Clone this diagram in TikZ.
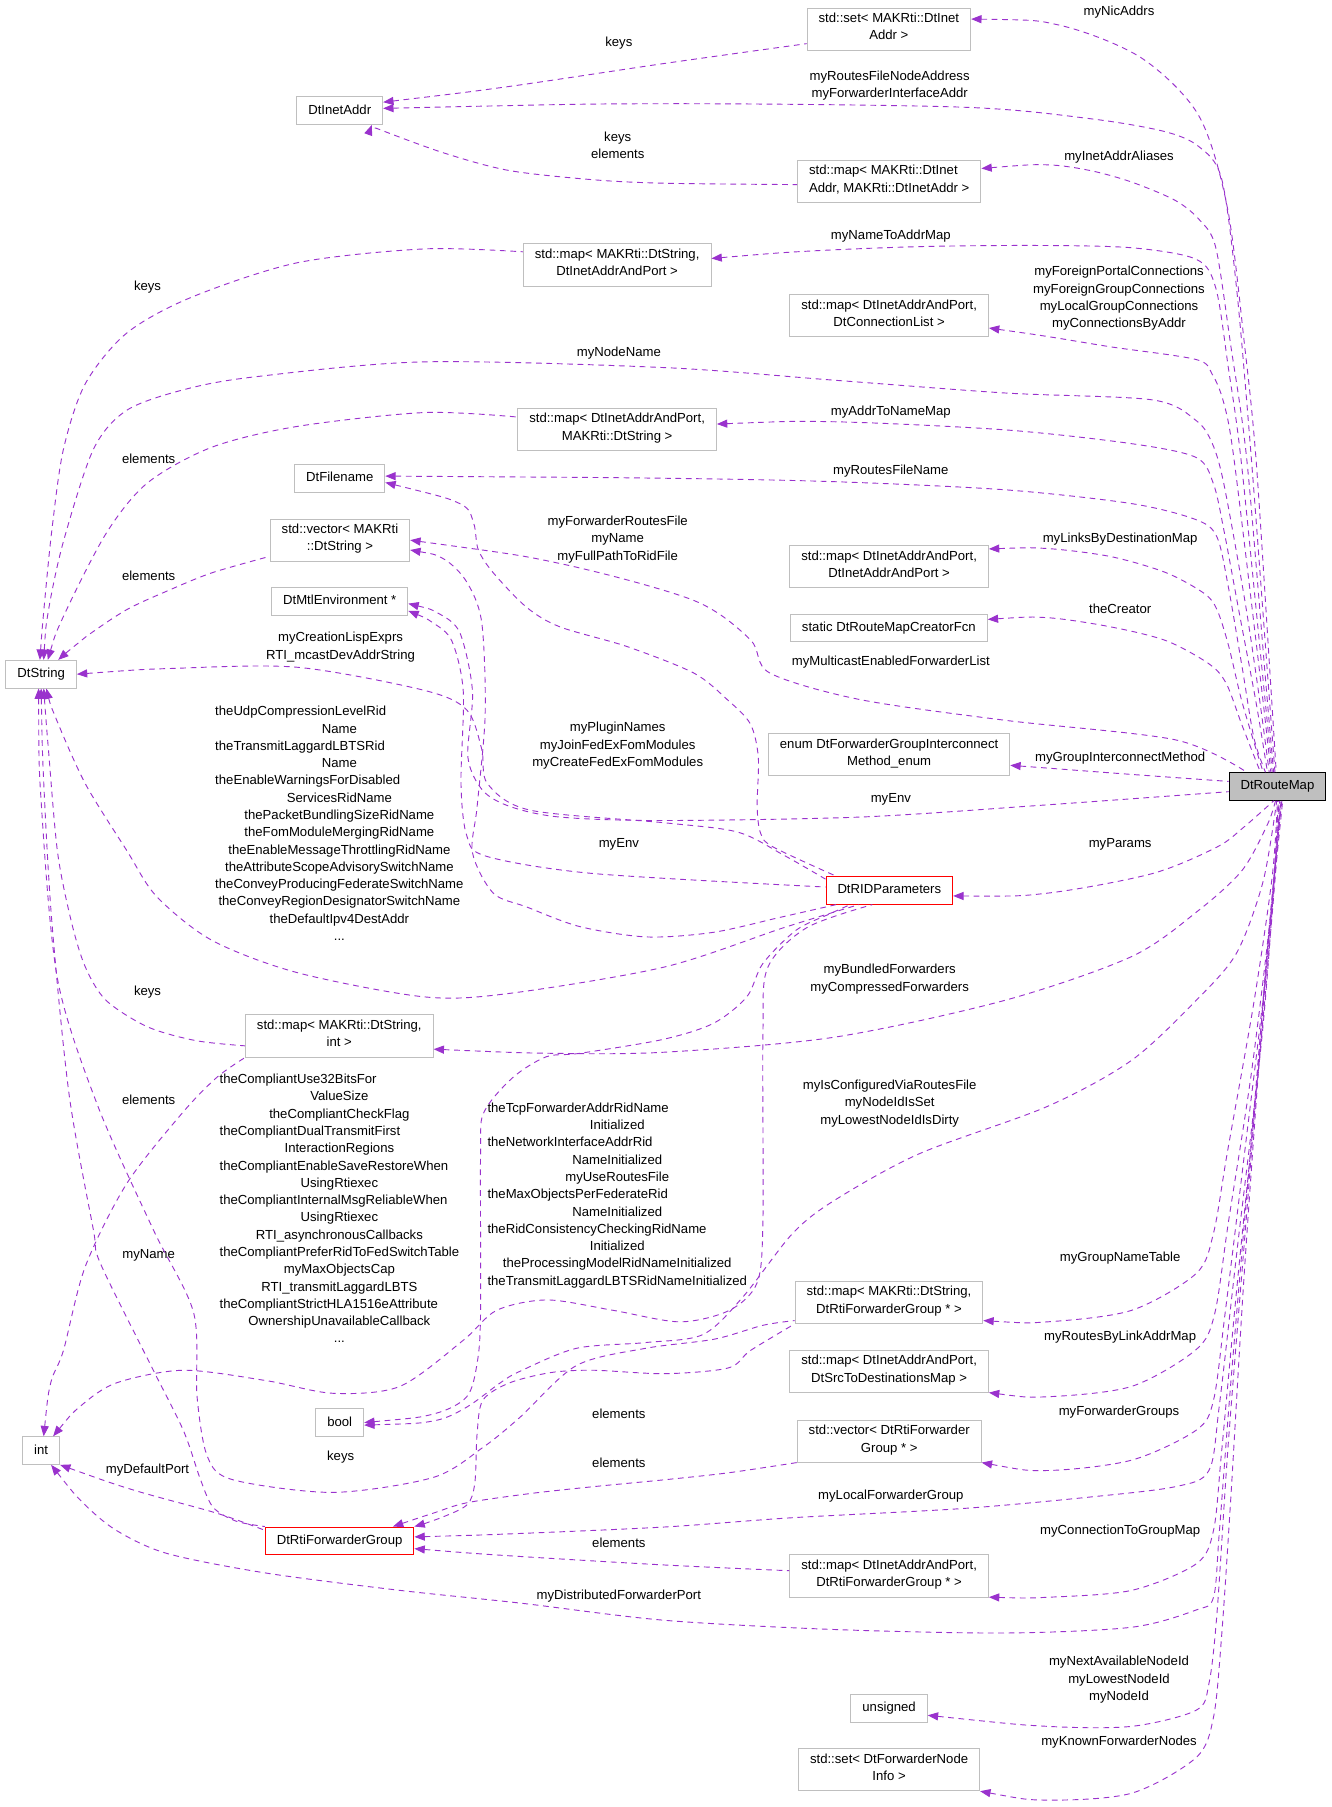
\documentclass[tikz,border=0pt]{standalone}
\usepackage{fontspec}
\setmainfont{Liberation Sans}
\usetikzlibrary{arrows.meta}
\definecolor{edgecol}{HTML}{9A32CD}
\definecolor{boxline}{HTML}{BFBFBF}
\newcommand{\lline}[2]{\rlap{#2}\phantom{#1}}
\tikzset{
  box/.style={draw=boxline, line width=0.8pt, fill=white, align=center,
    inner xsep=10pt, inner ysep=4.5pt, font=\fontsize{11.4}{15}\selectfont,
    execute at begin node=\strut, execute at end node=\strut},
  lbl/.style={align=center, inner sep=0pt, font=\fontsize{11.4}{15}\selectfont},
  link/.style={draw=edgecol, line width=0.8pt, dash pattern=on 5pt off 4pt,
    {Triangle[length=9pt,width=7pt]}-}
}
\begin{document}
\begin{tikzpicture}[x=1pt, y=-1pt]
   \path[use as bounding box, fill=white] (0,0) rectangle (1155,1568);
   \def \Boxes {
      setaddr/771.3/25.3/std::set< MAKRti::DtInet\\Addr >,
      inetaddr/294.8/96/DtInetAddr,
      mapaddr/771.6/157.4/\lline{Addr{,} MAKRti::DtInetAddr >}{std::map< MAKRti::DtInet}\\Addr{,} MAKRti::DtInetAddr >,
      mapstraddr/535.5/230/std::map< MAKRti::DtString{,}\\DtInetAddrAndPort >,
      mapconn/771.5/274/std::map< DtInetAddrAndPort{,}\\DtConnectionList >,
      mapaddrstr/535.5/372.5/std::map< DtInetAddrAndPort{,}\\MAKRti::DtString >,
      filename/294.8/415.2/DtFilename,
      vecstr/295/468.7/std::vector< MAKRti\\::DtString >,
      mtlenv/294.8/521.7/DtMtlEnvironment *,
      dtstring/35.7/585/DtString,
      maplinks/771.5/491.6/std::map< DtInetAddrAndPort{,}\\DtInetAddrAndPort >,
      creator/771.3/545/static DtRouteMapCreatorFcn,
      enumgrp/771.5/654.9/enum DtForwarderGroupInterconnect\\Method\_enum,
      mapstrint/294.4/898.9/std::map< MAKRti::DtString{,}\\int >,
      mapstrgrp/771.4/1130/std::map< MAKRti::DtString{,}\\DtRtiForwarderGroup * >,
      mapsrc/771.5/1190/std::map< DtInetAddrAndPort{,}\\DtSrcToDestinationsMap >,
      typebool/294.8/1234.4/bool,
      typeint/35.7/1258.7/int,
      vecgrp/771.6/1250.6/std::vector< DtRtiForwarder\\Group * >,
      mapaddrgrp/771.5/1367.5/std::map< DtInetAddrAndPort{,}\\DtRtiForwarderGroup * >,
      typeunsigned/771.5/1482.5/unsigned,
      setnode/771.5/1535.5/std::set< DtForwarderNode\\Info >}
   \def \Labels {
      lNic/971/10.7/myNicAddrs,
      lKeysA/537/37/keys,
      lRoutesAddr/772/74/myRoutesFileNodeAddress\\myForwarderInterfaceAddr,
      lKeysElem/536/126/keys\\elements,
      lAliases/971/136/myInetAddrAliases,
      lNameToAddr/773/205/myNameToAddrMap,
      lKeysB/128/249/keys,
      lConn/971/259/myForeignPortalConnections\\myForeignGroupConnections\\myLocalGroupConnections\\myConnectionsByAddr,
      lNodeName/537/306/myNodeName,
      lAddrToName/773/358/myAddrToNameMap,
      lElemA/129/398/elements,
      lRoutesFile/773/409/myRoutesFileName,
      lRidFiles/536/468/myForwarderRoutesFile\\myName\\myFullPathToRidFile,
      lLinks/972/468/myLinksByDestinationMap,
      lElemB/129/500/elements,
      lCreator/972/528/theCreator,
      lLisp/295.5/561.5/myCreationLispExprs\\RTI\_mcastDevAddrString,
      lMulticast/773/574.6/myMulticastEnabledForwarderList,
      lRidNames/294.5/714.5/\lline{theConveyProducingFederateSwitchName}{theUdpCompressionLevelRid}\\Name\\\lline{theConveyProducingFederateSwitchName}{theTransmitLaggardLBTSRid}\\Name\\\lline{theConveyProducingFederateSwitchName}{theEnableWarningsForDisabled}\\ServicesRidName\\thePacketBundlingSizeRidName\\theFomModuleMergingRidName\\theEnableMessageThrottlingRidName\\theAttributeScopeAdvisorySwitchName\\theConveyProducingFederateSwitchName\\theConveyRegionDesignatorSwitchName\\theDefaultIpv4DestAddr\\.{}.{}.,
      lPlugins/536/647/myPluginNames\\myJoinFedExFomModules\\myCreateFedExFomModules,
      lInterconnect/972/658/myGroupInterconnectMethod,
      lEnvA/773/694/myEnv,
      lEnvB/537/733/myEnv,
      lParams/972/733/myParams,
      lBundled/772/849.5/myBundledForwarders\\myCompressedForwarders,
      lKeysC/128/860.5/keys,
      lFlags/294.5/1048.7/\lline{theCompliantPreferRidToFedSwitchTable}{theCompliantUse32BitsFor}\\ValueSize\\theCompliantCheckFlag\\\lline{theCompliantPreferRidToFedSwitchTable}{theCompliantDualTransmitFirst}\\InteractionRegions\\\lline{theCompliantPreferRidToFedSwitchTable}{theCompliantEnableSaveRestoreWhen}\\UsingRtiexec\\\lline{theCompliantPreferRidToFedSwitchTable}{theCompliantInternalMsgReliableWhen}\\UsingRtiexec\\RTI\_asynchronousCallbacks\\theCompliantPreferRidToFedSwitchTable\\myMaxObjectsCap\\RTI\_transmitLaggardLBTS\\\lline{theCompliantPreferRidToFedSwitchTable}{theCompliantStrictHLA1516eAttribute}\\OwnershipUnavailableCallback\\.{}.{}.,
      lElemC/129/954/elements,
      lConfigured/772/957.5/myIsConfiguredViaRoutesFile\\myNodeIdIsSet\\myLowestNodeIdIsDirty,
      lInit/535.6/1037.3/\lline{theTransmitLaggardLBTSRidNameInitialized}{theTcpForwarderAddrRidName}\\Initialized\\\lline{theTransmitLaggardLBTSRidNameInitialized}{theNetworkInterfaceAddrRid}\\NameInitialized\\myUseRoutesFile\\\lline{theTransmitLaggardLBTSRidNameInitialized}{theMaxObjectsPerFederateRid}\\NameInitialized\\\lline{theTransmitLaggardLBTSRidNameInitialized}{theRidConsistencyCheckingRidName}\\Initialized\\theProcessingModelRidNameInitialized\\theTransmitLaggardLBTSRidNameInitialized,
      lMyName/129/1089/myName,
      lGroupName/972/1092/myGroupNameTable,
      lByLink/972/1160/myRoutesByLinkAddrMap,
      lFwdGroups/971/1225/myForwarderGroups,
      lElemD/537/1227/elements,
      lKeysD/295.6/1264/keys,
      lElemE/537/1269/elements,
      lDefaultPort/128/1276/myDefaultPort,
      lLocal/773/1298/myLocalForwarderGroup,
      lConnGroup/972/1329/myConnectionToGroupMap,
      lElemF/537/1339/elements,
      lDistributed/537/1384.7/myDistributedForwarderPort,
      lNodeIds/971/1457.5/myNextAvailableNodeId\\myLowestNodeId\\myNodeId,
      lKnown/971/1512/myKnownForwarderNodes}
   \foreach \n / \x / \y / \txt in \Boxes {
      \node[box] (\n) at (\x, \y) {\txt};
   }
   \node[box, draw=red] (ridparams) at (771.7, 772.6) {DtRIDParameters};
   \node[box, draw=red] (fwdgroup) at (294.7, 1337) {DtRtiForwarderGroup};
   \node[box, draw=black, fill=boxline] (routemap) at (1108.5, 682.5) {DtRouteMap};
   \foreach \n / \x / \y / \txt in \Labels {
      \node[lbl] (\n) at (\x, \y) {\txt};
   }
   \draw[link] plot[smooth] coordinates {(setaddr.7) (920,22) (990,50) (1040,100) (1065,180) (1080,300) (1090,400) (1103,600) (routemap.95)};
   \draw[link] plot[smooth] coordinates {(inetaddr.11) (442,75) (577,55) (setaddr.190)};
   \draw[link] plot[smooth] coordinates {(inetaddr.3) (577,90) (835,93) (946,103) (1010,114) (1040,127) (1060,155) (1073,250) (1086,400) (1101,600) (routemap.100)};
   \draw[link] plot[smooth] coordinates {(inetaddr.-24) (331,113) (386,133) (442,148) (515,156) (577,159) (mapaddr.182)};
   \draw[link] plot[smooth] coordinates {(mapaddr.8) (908,143) (946,148) (982,158) (1020,174) (1041,191) (1055,215) (1068,300) (1082,400) (1099,600) (routemap.105)};
   \draw[link] plot[smooth] coordinates {(mapstraddr.4) (700,218) (798,214) (900,213) (982,215) (1038,225) (1055,250) (1066,320) (1077,400) (1097,600) (routemap.110)};
   \draw[link] plot[smooth] coordinates {(dtstring.95) (38,530) (45,460) (55,390) (74,333) (110,289) (166,258) (258,228) (368,216) (mapstraddr.172)};
   \draw[link] plot[smooth] coordinates {(mapconn.-7) (909,292) (964,301) (1038,312) (1052,325) (1062,350) (1071,400) (1095,600) (routemap.115)};
   \draw[link] plot[smooth] coordinates {(dtstring.80) (42,530) (55,470) (81,390) (110,356) (160,338) (221,327) (368,314) (577,319) (725,330) (872,341) (1000,347) (1038,365) (1052,385) (1062,420) (1080,520) (1092,600) (routemap.120)};
   \draw[link] plot[smooth] coordinates {(mapaddrstr.3) (725,366) (872,373) (982,385) (1038,397) (1053,420) (1062,460) (1075,530) (1090,610) (routemap.125)};
   \draw[link] plot[smooth] coordinates {(dtstring.65) (55,535) (92,463) (128,419) (184,388) (258,370) (368,358) (mapaddrstr.173)};
   \draw[link] plot[smooth] coordinates {(filename.3) (577,415) (725,418) (872,425) (982,437) (1038,451) (1056,466) (1066,510) (1078,580) (1088,640) (routemap.130)};
   \draw[link] plot[smooth] coordinates {(filename.-5) (399,437) (411,454) (415,477) (428,497) (457,527) (486,544) (544,561) (602,584) (631,607) (651,628) (658,657) (657,700) (660,723) (671,735) (ridparams.165)};
   \draw[link] plot[smooth] coordinates {(maplinks.10) (909,476) (964,483) (1012,497) (1045,515) (1056,529) (1066,560) (1078,610) (routemap.135)};
   \draw[link] plot[smooth] coordinates {(dtstring.40) (74,553) (110,529) (147,512) (184,497) (vecstr.193)};
   \draw[link] plot[smooth] coordinates {(creator.5) (909,536) (964,544) (1012,556) (1049,576) (1064,593) (1078,630) (routemap.140)};
   \draw[link] plot[smooth] coordinates {(dtstring.east) (150,580) (258,579) (368,599) (405,616) (418,650) (423,680) (460,703) (577,714) (640,722) (680,742) (ridparams.170)};
   \draw[link] plot[smooth] coordinates {(vecstr.0) (486,489) (602,521) (651,555) (668,584) (746,607) (872,625) (1020,642) (routemap.155)};
   \draw[link] plot[smooth] coordinates {(vecstr.-8) (385,485) (405,505) (418,540) (421,620) (414,700) (410,740) (428,775) (457,787) (503,804) (561,813) (619,809) (677,796) (ridparams.-165)};
   \draw[link] plot[smooth] coordinates {(enumgrp.-5) (909,666.5) (982,672) (routemap.174)};
   \draw[link] plot[smooth] coordinates {(mtlenv.-2) (380,532) (399,549) (410,600) (406,657) (419,686) (443,700) (486,709) (573,712) (746,709) (900,699) (routemap.186)};
   \draw[link] plot[smooth] coordinates {(mtlenv.-8) (375,540) (392,556) (402,600) (400,680) (405,725) (422,743) (515,758) (ridparams.177)};
   \draw[link] plot[smooth] coordinates {(dtstring.-70) (48,622) (74,680) (110,738) (136,778) (184,816) (258,844) (368,865) (442,862) (577,839) (680,805) (ridparams.-155)};
   \draw[link] plot[smooth] coordinates {(ridparams.-5) (909,775) (1000,758) (1056,735) (1079,718) (routemap.-105)};
   \draw[link] plot[smooth] coordinates {(mapstrint.-8) (480,914) (577,913) (724,900) (872,868) (982,830) (1040,790) (1078,755) (1100,715) (routemap.-98)};
   \draw[link] plot[smooth] coordinates {(dtstring.-80) (42,650) (50,740) (62,800) (74,839) (92,868) (128,891) (170,903) (mapstrint.186)};
   \draw[link] plot[smooth] coordinates {(typeint.80) (44,1200) (55,1172) (74,1099) (110,1027) (158,966) (188,935) (mapstrint.south west)};
   \draw[link] plot[smooth] coordinates {(typebool.-6) (376,1233) (405,1221) (434,1200) (451,1190) (500,1170) (560,1165) (610,1158) (645,1125) (688,1070) (725,1041) (798,1001) (909,960) (982,920) (1038,868) (1073,827) (1096,765) (routemap.-93)};
   \draw[link] plot[smooth] coordinates {(typebool.0) (376,1227) (405,1212) (414,1183) (417,1140) (417,1000) (420,965) (445,935) (474,917) (503,914) (575,902) (619,888) (648,865) (662,836) (691,807) (720,793) (ridparams.-160)};
   \draw[link] plot[smooth] coordinates {(typeint.50) (70,1220) (101,1200) (159,1189) (231,1198) (289,1209) (347,1203) (402,1163) (431,1137) (475,1128) (532,1137) (590,1147) (633,1137) (657,1113) (662,1060) (662,900) (666,840) (700,805) (ridparams.-140)};
   \draw[link] plot[smooth] coordinates {(dtstring.-90) (38,680) (45,800) (60,950) (81,1067) (87,1096) (130,1183) (159,1241) (174,1284) (185,1308) (205,1320) (fwdgroup.north west)};
   \draw[link] plot[smooth] coordinates {(dtstring.-100) (36,700) (50,850) (85,960) (133,1067) (168,1139) (171,1212) (180,1264) (202,1284) (289,1295) (376,1282) (419,1256) (451,1230) (500,1185) (560,1170) (620,1162) (662,1150) (mapstrgrp.191)};
   \draw[link] plot[smooth] coordinates {(typeint.south east) (116,1293) (188,1313) (fwdgroup.172)};
   \draw[link] plot[smooth] coordinates {(typeint.-55) (72,1304) (101,1328) (145,1348) (231,1365) (347,1380) (451,1391) (577,1406) (725,1414) (872,1417) (982,1412) (1038,1397) (1053,1386) (1058,1330) (1068,1200) (1085,1000) (1102,800) (routemap.-76)};
   \draw[link] plot[smooth] coordinates {(mapstrgrp.-11) (909,1147) (982,1137) (1038,1105) (1053,1070) (1065,1000) (1088,870) (1104,760) (routemap.-90)};
   \draw[link] plot[smooth] coordinates {(mapsrc.-12) (909,1212) (982,1203) (1038,1171) (1054,1140) (1066,1060) (1086,930) (1104,780) (routemap.-87)};
   \draw[link] plot[smooth] coordinates {(vecgrp.-13) (909,1276) (982,1267) (1038,1241) (1053,1215) (1063,1140) (1080,1000) (1100,830) (routemap.-84)};
   \draw[link] plot[smooth] coordinates {(fwdgroup.north east) (380,1318) (405,1306) (412,1287) (414,1244) (419,1215) (442,1200) (478,1191) (515,1189) (577,1192) (632,1187) (651,1172) (mapstrgrp.south west)};
   \draw[link] plot[smooth] coordinates {(fwdgroup.15) (376,1313) (405,1304) (460,1296) (515,1290) (577,1284) (632,1278) (vecgrp.193)};
   \draw[link] plot[smooth] coordinates {(fwdgroup.3) (442,1331) (577,1325) (687,1317) (835,1309) (946,1299) (1020,1290) (1049,1276) (1058,1220) (1074,1080) (1095,900) (1106,760) (routemap.-81)};
   \draw[link] plot[smooth] coordinates {(fwdgroup.-6) (442,1350) (577,1358) (mapaddrgrp.177)};
   \draw[link] plot[smooth] coordinates {(mapaddrgrp.-12) (909,1386) (982,1380) (1038,1357) (1053,1328) (1060,1260) (1073,1120) (1090,950) (1105,780) (routemap.-78)};
   \draw[link] plot[smooth] coordinates {(typeunsigned.-10) (909,1498) (982,1498) (1038,1484) (1049,1461) (1056,1400) (1066,1250) (1082,1050) (1100,820) (routemap.-73)};
   \draw[link] plot[smooth] coordinates {(setnode.south east) (909,1562) (982,1556) (1038,1525) (1053,1490) (1060,1420) (1068,1300) (1080,1100) (1098,850) (routemap.-70)};
\end{tikzpicture}
\end{document}
